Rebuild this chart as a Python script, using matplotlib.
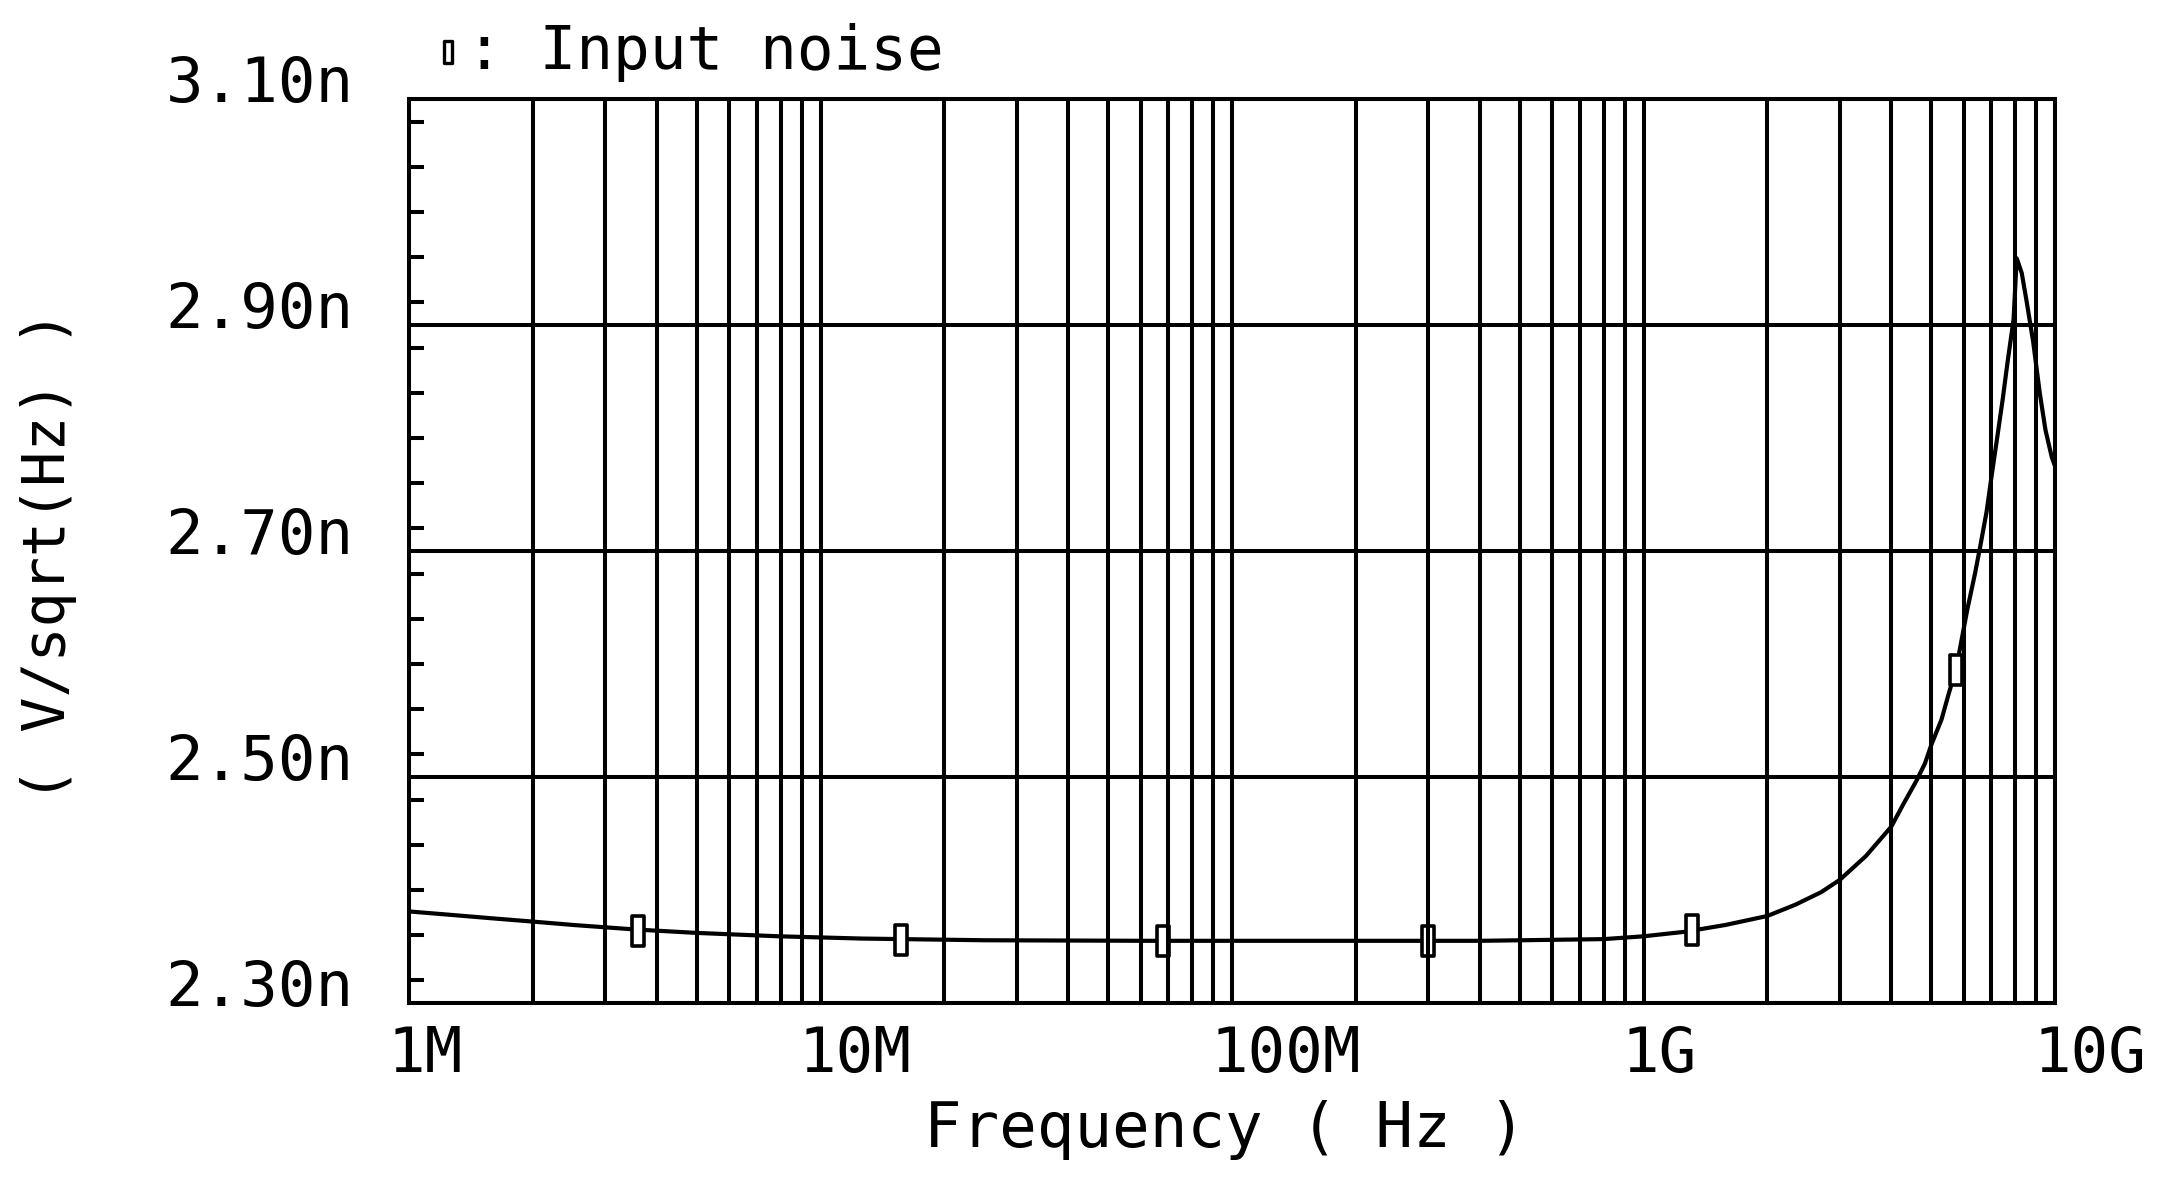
import matplotlib
matplotlib.use("Agg")
import matplotlib.pyplot as plt
import matplotlib.ticker as mticker
from matplotlib.path import Path
from matplotlib.transforms import ScaledTranslation

plt.rcParams['font.family'] = ['DejaVu Sans Mono']

# input noise curve, frequency in Hz, noise in nV/sqrt(Hz)
freq = [1.0e6, 1.26e6, 1.58e6, 2.0e6, 2.51e6, 3.55e6, 5.0e6, 7.9e6,
        1.26e7, 2.5e7, 6.3e7, 1.6e8, 4.0e8, 8.0e8, 1.0e9, 1.26e9,
        1.58e9, 2.0e9, 2.34e9, 2.7e9, 3.0e9, 3.47e9, 4.0e9, 4.28e9,
        4.61e9, 4.83e9, 5.0e9, 5.3e9, 5.5e9, 5.74e9, 5.87e9, 6.12e9,
        6.39e9, 6.58e9, 6.82e9, 7.01e9, 7.24e9, 7.46e9, 7.66e9, 7.93e9,
        8.07e9, 8.30e9, 8.53e9, 8.85e9, 9.18e9, 9.48e9, 9.82e9, 1.0e10]
noise = [2.381, 2.378, 2.375, 2.372, 2.369, 2.365, 2.362, 2.359,
         2.357, 2.3555, 2.355, 2.355, 2.355, 2.3565, 2.359, 2.363,
         2.369, 2.377, 2.387, 2.398, 2.409, 2.430, 2.456, 2.476,
         2.497, 2.512, 2.528, 2.551, 2.572, 2.595, 2.613, 2.648,
         2.680, 2.704, 2.735, 2.766, 2.801, 2.834, 2.866, 2.905,
         2.959, 2.946, 2.921, 2.885, 2.840, 2.807, 2.783, 2.775]

marker_freq = [3.6e6, 1.57e7, 6.8e7, 3.0e8, 1.31e9, 5.74e9]
marker_noise = [2.364, 2.356, 2.355, 2.355, 2.365, 2.595]

y_ticks = [2.30, 2.50, 2.70, 2.90, 3.10]
x_ticks = [1e6, 1e7, 1e8, 1e9, 1e10]
x_labels = ['1M', '10M', '100M', '1G', '10G']

fig = plt.figure(figsize=(21.6, 11.84), dpi=100)
ax = fig.add_axes([0.1894, 0.1529, 0.7620, 0.7635])

box = Path([(-0.19, -0.5), (0.19, -0.5), (0.19, 0.5), (-0.19, 0.5), (-0.19, -0.5)],
           [Path.MOVETO, Path.LINETO, Path.LINETO, Path.LINETO, Path.CLOSEPOLY])

ax.plot(freq, noise, color='black', lw=3.0, zorder=2)
ax.plot(marker_freq, marker_noise, ls='none', marker=box, ms=21,
        mfc='white', mec='black', mew=2.6, zorder=2.2)

ax.set_xscale('log')
ax.set_xlim(1e6, 1e10)
ax.set_ylim(2.30, 3.10)

ax.xaxis.set_major_locator(mticker.FixedLocator(x_ticks))
ax.xaxis.set_major_formatter(mticker.FixedFormatter(x_labels))
ax.xaxis.set_minor_locator(mticker.LogLocator(base=10, subs=range(2, 10), numticks=20))
ax.xaxis.set_minor_formatter(mticker.NullFormatter())

ax.yaxis.set_major_locator(mticker.FixedLocator(y_ticks))
ax.yaxis.set_major_formatter(mticker.FuncFormatter(lambda v, p: f'{v:.2f}n'))
ax.yaxis.set_minor_locator(mticker.MultipleLocator(0.04))

ax.grid(True, axis='x', which='both', color='black', lw=2.9)
ax.grid(True, axis='y', which='major', color='black', lw=2.9)
ax.set_axisbelow(False)

for s in ax.spines.values():
    s.set_linewidth(2.9)

ax.tick_params(axis='x', which='both', length=0, labelsize=45, pad=16)
ax.tick_params(axis='y', which='major', length=0, labelsize=45, pad=40)
ax.tick_params(axis='y', which='minor', direction='in', length=11, width=2.9,
               left=True, right=False)

for lab in ax.get_yticklabels():
    lab.set_transform(lab.get_transform() + ScaledTranslation(0, 0.20, fig.dpi_scale_trans))
for lab in ax.get_xticklabels():
    lab.set_horizontalalignment('left')
    lab.set_transform(lab.get_transform() + ScaledTranslation(-0.22, 0, fig.dpi_scale_trans))

fig.text(1225 / 2160, 1 - 1130 / 1184, 'Frequency ( Hz )', fontsize=45,
         ha='center', va='center')
fig.text(49 / 2160, 1 - 556 / 1184, '( V/sqrt(Hz) )', fontsize=42,
         rotation=90, ha='center', va='center')

# legend line at the top
fig.lines.append(plt.Line2D([448 / 2160], [1 - 52 / 1184], transform=fig.transFigure,
                            ls='none', marker=box, ms=16, mfc='white', mec='black', mew=2.4))
fig.text(466 / 2160, 1 - 69 / 1184, ': Input noise', fontsize=44, ha='left', va='baseline')

fig.savefig('out.png', dpi=100)
